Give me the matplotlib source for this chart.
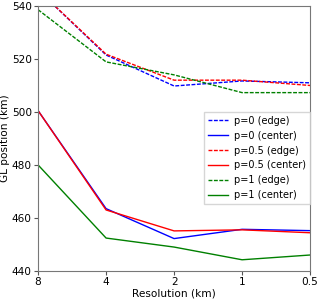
import matplotlib
matplotlib.use("Agg")
import matplotlib.pyplot as plt
import numpy as np

# Resolution categories (km), equally spaced on the x axis
resolutions = ["8", "4", "2", "1", "0.5"]

p0_edge = [546.0, 521.5, 509.8, 511.7, 511.0]
p0_center = [500.5, 463.5, 452.2, 455.7, 455.2]
p05_edge = [546.0, 521.8, 512.0, 512.0, 510.0]
p05_center = [500.5, 463.0, 455.1, 455.5, 454.4]
p1_edge = [538.6, 518.9, 514.0, 507.3, 507.3]
p1_center = [480.0, 452.4, 449.0, 444.2, 446.0]

x = np.arange(len(resolutions))
dash = (2.8, 1.1)

fig = plt.figure(figsize=(3.2, 3.0), dpi=100)
ax = fig.add_axes([0.119, 0.097, 0.85, 0.883])

ax.plot(x, p0_edge, "--", dashes=dash, color="blue", lw=1, label="p=0 (edge)")
ax.plot(x, p0_center, "-", color="blue", lw=1, label="p=0 (center)")
ax.plot(x, p05_edge, "--", dashes=dash, color="red", lw=1, label="p=0.5 (edge)")
ax.plot(x, p05_center, "-", color="red", lw=1, label="p=0.5 (center)")
ax.plot(x, p1_edge, "--", dashes=dash, color="green", lw=1, label="p=1 (edge)")
ax.plot(x, p1_center, "-", color="green", lw=1, label="p=1 (center)")

ax.set_xlim(0, len(resolutions) - 1)
ax.set_ylim(440, 540)
ax.set_xticks(x)
ax.set_xticklabels(resolutions)
ax.set_yticks([440, 460, 480, 500, 520, 540])
ax.set_xlabel("Resolution (km)", fontsize=7.6, labelpad=1)
ax.set_ylabel("GL position (km)", fontsize=7.6, labelpad=1)
ax.tick_params(labelsize=7.6, color="#555555", length=3, pad=1.5)
for s in ax.spines.values():
    s.set_color("#777777")

ax.legend(loc="upper right", bbox_to_anchor=(1.0, 0.6), fontsize=7,
          borderaxespad=0, handlelength=2.1, handletextpad=0.6,
          fancybox=False, framealpha=0.8)

fig.savefig("out.png", dpi=100)
